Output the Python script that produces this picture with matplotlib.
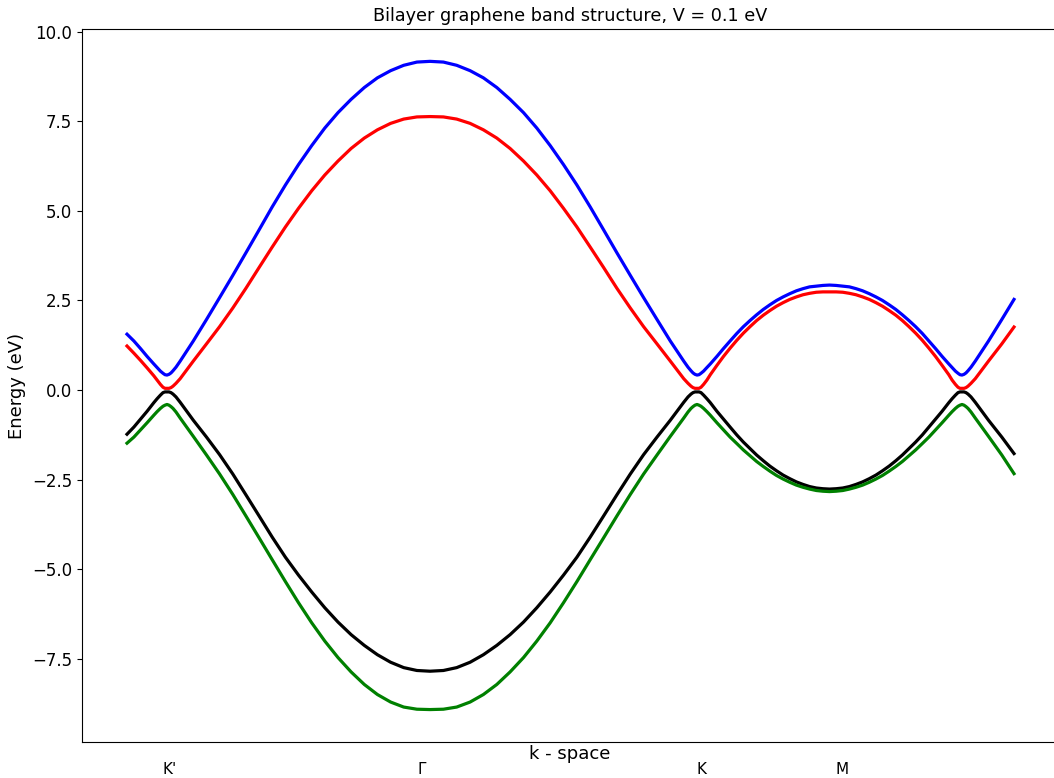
import numpy as np
import matplotlib.pyplot as plt

# position along the path  K' -> Gamma -> K -> M -> K' -> (towards Gamma)
k_path = [0.000, 0.069, 0.135, 0.201, 0.268, 0.301, 0.334, 0.360, 0.380, 0.400,
          0.420, 0.440, 0.460, 0.490, 0.532, 0.663, 0.795, 0.926, 1.058, 1.189,
          1.321, 1.452, 1.584, 1.715, 1.847, 1.978, 2.110, 2.241, 2.373, 2.504,
          2.636, 2.767, 2.899, 3.030,
          3.164, 3.297, 3.431, 3.564, 3.698, 3.831, 3.965, 4.098, 4.232, 4.365,
          4.499, 4.632, 4.766, 4.899, 5.033, 5.166, 5.300, 5.433, 5.567, 5.610,
          5.640, 5.660, 5.680, 5.700,
          5.720, 5.740, 5.766, 5.799, 5.833, 5.899, 5.965, 6.031, 6.098, 6.164,
          6.230, 6.296, 6.363, 6.429, 6.495, 6.561, 6.628, 6.694, 6.760, 6.826,
          6.893, 6.959, 7.025,
          7.091, 7.158, 7.224, 7.290, 7.356, 7.423, 7.489, 7.555, 7.621, 7.688,
          7.754, 7.820, 7.886, 7.953, 8.019, 8.085, 8.151, 8.218, 8.251, 8.284,
          8.310, 8.330, 8.350,
          8.370, 8.390, 8.410, 8.440, 8.483, 8.615, 8.748, 8.870]

# band energies in eV
band_c2 = [1.56, 1.37, 1.16, 0.94, 0.73, 0.63, 0.53, 0.47, 0.43, 0.42,
           0.44, 0.48, 0.54, 0.64, 0.81, 1.37, 1.97, 2.58, 3.20, 3.83,
           4.47, 5.11, 5.72, 6.29, 6.82, 7.31, 7.74, 8.11, 8.44, 8.71,
           8.91, 9.06, 9.15, 9.17,
           9.15, 9.06, 8.91, 8.71, 8.44, 8.11, 7.74, 7.31, 6.82, 6.29,
           5.72, 5.11, 4.47, 3.83, 3.20, 2.58, 1.97, 1.37, 0.81, 0.64,
           0.54, 0.48, 0.44, 0.42,
           0.43, 0.47, 0.53, 0.63, 0.73, 0.94, 1.16, 1.37, 1.58, 1.77,
           1.94, 2.10, 2.25, 2.38, 2.50, 2.60, 2.69, 2.77, 2.83, 2.88,
           2.90, 2.92, 2.93,
           2.92, 2.90, 2.88, 2.83, 2.77, 2.69, 2.60, 2.50, 2.38, 2.25,
           2.10, 1.94, 1.77, 1.58, 1.37, 1.16, 0.94, 0.73, 0.63, 0.53,
           0.47, 0.43, 0.42,
           0.44, 0.48, 0.54, 0.64, 0.81, 1.37, 1.97, 2.53]

band_c1 = [1.23, 1.03, 0.83, 0.62, 0.40, 0.28, 0.16, 0.08, 0.05, 0.05,
           0.05, 0.07, 0.11, 0.19, 0.32, 0.81, 1.29, 1.77, 2.29, 2.84,
           3.42, 3.99, 4.55, 5.07, 5.56, 6.00, 6.39, 6.74, 7.03, 7.26,
           7.44, 7.56, 7.62, 7.63,
           7.62, 7.56, 7.44, 7.26, 7.03, 6.74, 6.39, 6.00, 5.56, 5.07,
           4.55, 3.99, 3.42, 2.84, 2.29, 1.77, 1.29, 0.81, 0.32, 0.19,
           0.11, 0.07, 0.05, 0.05,
           0.05, 0.08, 0.16, 0.28, 0.43, 0.69, 0.94, 1.17, 1.39, 1.59,
           1.77, 1.94, 2.09, 2.22, 2.34, 2.44, 2.53, 2.60, 2.66, 2.70,
           2.73, 2.74, 2.74,
           2.74, 2.73, 2.70, 2.66, 2.60, 2.53, 2.44, 2.34, 2.22, 2.09,
           1.94, 1.77, 1.59, 1.39, 1.17, 0.94, 0.69, 0.43, 0.28, 0.16,
           0.08, 0.05, 0.05,
           0.05, 0.07, 0.11, 0.19, 0.32, 0.81, 1.29, 1.76]

band_v1 = [-1.23, -1.03, -0.81, -0.59, -0.35, -0.24, -0.14, -0.07, -0.05, -0.05,
           -0.05, -0.07, -0.11, -0.19, -0.34, -0.84, -1.31, -1.80, -2.34, -2.92,
           -3.51, -4.10, -4.66, -5.16, -5.63, -6.07, -6.47, -6.82, -7.12, -7.38,
           -7.59, -7.74, -7.82, -7.84,
           -7.82, -7.74, -7.59, -7.38, -7.12, -6.82, -6.47, -6.07, -5.63, -5.16,
           -4.66, -4.10, -3.51, -2.92, -2.34, -1.80, -1.31, -0.84, -0.34, -0.19,
           -0.11, -0.07, -0.05, -0.05,
           -0.05, -0.07, -0.14, -0.24, -0.35, -0.59, -0.81, -1.03, -1.25, -1.45,
           -1.63, -1.81, -1.97, -2.12, -2.25, -2.37, -2.47, -2.56, -2.63, -2.69,
           -2.73, -2.75, -2.76,
           -2.75, -2.73, -2.69, -2.63, -2.56, -2.47, -2.37, -2.25, -2.12, -1.97,
           -1.81, -1.63, -1.45, -1.25, -1.03, -0.81, -0.59, -0.35, -0.24, -0.14,
           -0.07, -0.05, -0.05,
           -0.05, -0.07, -0.11, -0.19, -0.34, -0.84, -1.31, -1.77]

band_v2 = [-1.48, -1.31, -1.11, -0.91, -0.70, -0.60, -0.51, -0.45, -0.42, -0.40,
           -0.42, -0.46, -0.51, -0.61, -0.78, -1.29, -1.81, -2.34, -2.91, -3.51,
           -4.12, -4.73, -5.34, -5.93, -6.49, -7.00, -7.46, -7.86, -8.21, -8.49,
           -8.70, -8.84, -8.90, -8.91,
           -8.90, -8.84, -8.70, -8.49, -8.21, -7.86, -7.46, -7.00, -6.49, -5.93,
           -5.34, -4.73, -4.12, -3.51, -2.91, -2.34, -1.81, -1.29, -0.78, -0.61,
           -0.51, -0.46, -0.42, -0.40,
           -0.42, -0.45, -0.51, -0.60, -0.70, -0.91, -1.11, -1.31, -1.49, -1.67,
           -1.83, -1.99, -2.13, -2.26, -2.38, -2.48, -2.57, -2.65, -2.71, -2.76,
           -2.80, -2.82, -2.83,
           -2.82, -2.80, -2.76, -2.71, -2.65, -2.57, -2.48, -2.38, -2.26, -2.13,
           -1.99, -1.83, -1.67, -1.49, -1.31, -1.11, -0.91, -0.70, -0.60, -0.51,
           -0.45, -0.42, -0.40,
           -0.42, -0.46, -0.51, -0.61, -0.78, -1.29, -1.81, -2.33]

sym_labels = ["K'", "Γ", "K", "M"]
sym_pos = [0.43, 2.95, 5.74, 7.15]

fig = plt.figure(figsize=(10.54, 7.78), dpi=100)
ax = fig.add_axes([0.0778, 0.0463, 0.926, 0.9165])

ax.plot(k_path, band_c2, color='blue', linewidth=2.3)
ax.plot(k_path, band_c1, color='red', linewidth=2.3)
ax.plot(k_path, band_v1, color='black', linewidth=2.3)
ax.plot(k_path, band_v2, color='green', linewidth=2.3)

# the right edge of the axes runs off the canvas
ax.set_xlim(-0.45, 9.31)
ax.spines['right'].set_visible(False)
ax.set_xticks([])
ax.tick_params(axis='y', labelsize=12)
for name, pos in zip(sym_labels, sym_pos):
    ax.text(pos, -0.039, name, transform=ax.get_xaxis_transform(),
            ha='center', va='center', fontsize=11)

ax.set_title('Bilayer graphene band structure, V = 0.1 eV', fontsize=12.7)
ax.set_xlabel('k - space', fontsize=13, labelpad=2)
ax.set_ylabel('Energy (eV)', fontsize=13)

fig.savefig('out.png', dpi=100)
